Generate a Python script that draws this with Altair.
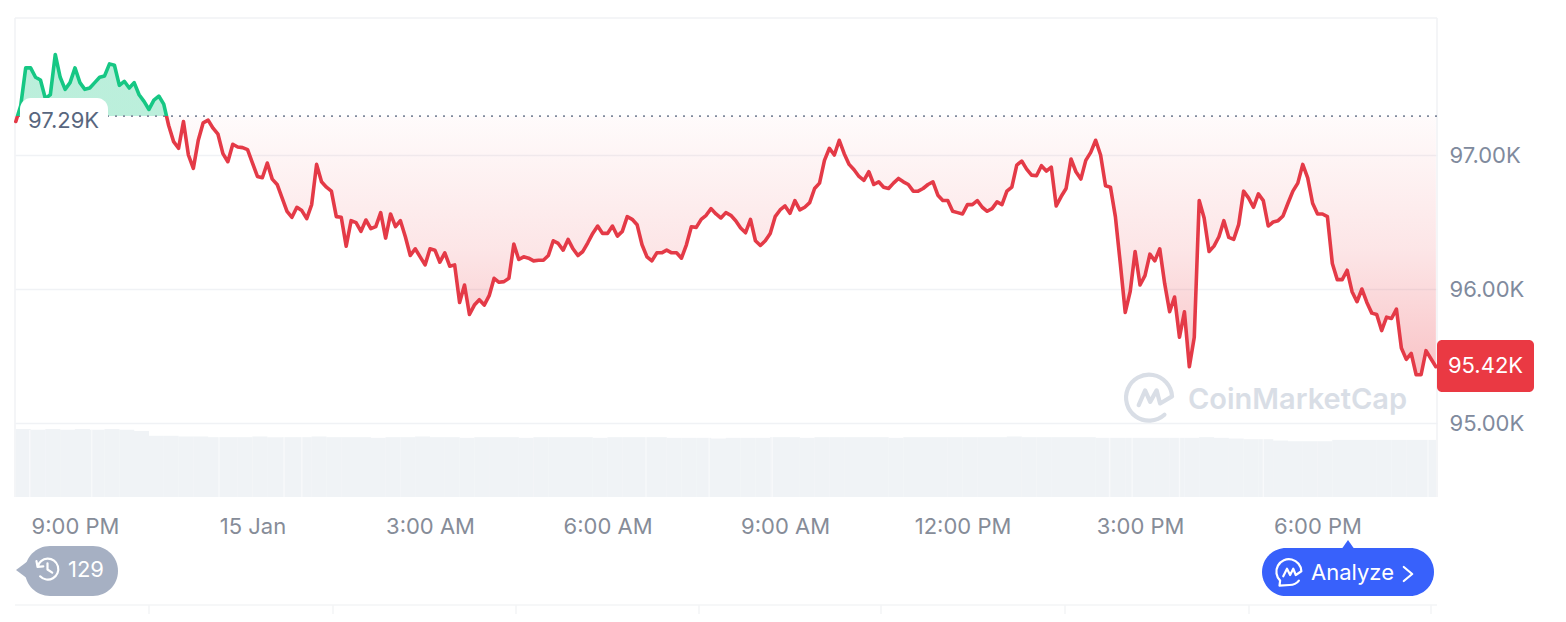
import altair as alt
import pandas as pd

# ---- chart values ----
BASE_PRICE = 97.29
LAST_PRICE_TEXT = "95.42K"
OPEN_PRICE_TEXT = "97.29K"
HISTORY_COUNT = "129"

prices_a = [
    97.25, 97.37, 97.65, 97.65, 97.58, 97.56, 97.42, 97.45, 97.75, 97.58,
    97.49, 97.54, 97.65, 97.54, 97.49, 97.50, 97.54, 97.58, 97.59, 97.68,
    97.67, 97.52, 97.55, 97.50, 97.54, 97.45, 97.40, 97.34, 97.41, 97.44,
    97.38, 97.22, 97.10, 97.05, 97.25, 97.00, 96.90, 97.11, 97.24, 97.26,
    97.20, 97.155, 97.01, 96.95, 97.08, 97.06, 97.055, 97.04, 96.94, 96.84,
    96.83, 96.94, 96.82, 96.78, 96.68, 96.58, 96.535, 96.61, 96.585, 96.525,
    96.63, 96.93, 96.80, 96.76, 96.73, 96.54, 96.535, 96.32, 96.51, 96.495,
    96.43, 96.515, 96.45, 96.465, 96.57, 96.38, 96.56, 96.465, 96.51, 96.39,
    96.25, 96.30, 96.24, 96.18, 96.30, 96.29, 96.20, 96.27, 96.17, 96.18,
    95.90, 96.03, 95.81, 95.88, 95.92, 95.88, 95.95, 96.08, 96.05,
]
prices_b = [
    96.055, 96.08, 96.335, 96.22, 96.24, 96.23, 96.21, 96.215, 96.215, 96.25,
    96.36, 96.34, 96.29, 96.37, 96.30, 96.25, 96.28, 96.345, 96.415, 96.47,
    96.415, 96.415, 96.47, 96.395, 96.43, 96.54, 96.52, 96.48, 96.33, 96.24,
    96.21, 96.27, 96.27, 96.29, 96.27, 96.27, 96.23, 96.33, 96.465, 96.46,
    96.52, 96.55, 96.60, 96.56, 96.53, 96.57, 96.55, 96.51, 96.455, 96.42,
    96.52, 96.36, 96.325, 96.36, 96.415, 96.54, 96.59, 96.62, 96.565, 96.66,
    96.59, 96.61, 96.645, 96.75, 96.79, 96.96, 97.05, 97.00, 97.11, 97.01,
    96.93, 96.89, 96.84, 96.81, 96.875, 96.78, 96.80, 96.76, 96.75, 96.79,
    96.825, 96.80, 96.78, 96.73, 96.73, 96.75, 96.78, 96.80, 96.70, 96.66,
    96.66, 96.58, 96.57, 96.56, 96.63, 96.63, 96.66,
]
prices_c = [
    96.61, 96.58, 96.60, 96.65, 96.63, 96.73, 96.76, 96.925, 96.955, 96.895,
    96.85, 96.845, 96.92, 96.88, 96.91, 96.62, 96.69, 96.75, 96.97, 96.875,
    96.82, 96.96, 97.02, 97.11, 97.00, 96.77, 96.76, 96.54, 96.19, 95.825,
    95.98, 96.28, 96.03, 96.10, 96.26, 96.21, 96.30, 96.04, 95.83, 95.94,
    95.64, 95.83, 95.42, 95.64, 96.66, 96.53, 96.28, 96.32, 96.39, 96.51,
    96.385, 96.37, 96.48, 96.73, 96.68, 96.61, 96.71, 96.66, 96.47, 96.50,
    96.51, 96.545, 96.64, 96.73, 96.79, 96.93, 96.83, 96.64, 96.56, 96.56,
    96.54, 96.19, 96.07, 96.07, 96.14, 95.98, 95.905, 96.00, 95.90, 95.82,
    95.81, 95.69, 95.79, 95.78, 95.85, 95.56, 95.475, 95.52, 95.36, 95.36,
    95.54, 95.48, 95.42,
]
prices = prices_a + prices_b + prices_c

# relative volume, one bar per 15 minutes
volumes = [
    1.00, 0.99, 1.00, 0.99, 1.00, 0.99, 1.00, 0.99, 0.97,
    0.90, 0.90, 0.89, 0.89, 0.88, 0.88, 0.88, 0.89, 0.88, 0.88, 0.88, 0.89,
    0.88, 0.88, 0.88, 0.87, 0.88, 0.88, 0.89, 0.88, 0.88, 0.87, 0.88, 0.88,
    0.88, 0.87, 0.88, 0.88, 0.88, 0.88, 0.87, 0.88, 0.88, 0.88, 0.88,
    0.87, 0.87, 0.87, 0.86, 0.87, 0.87, 0.87,
    0.88, 0.88, 0.87, 0.88, 0.88, 0.88, 0.88, 0.88, 0.87, 0.88, 0.88, 0.88, 0.88,
    0.88, 0.88, 0.88, 0.89, 0.88, 0.88, 0.88, 0.88, 0.88,
    0.87, 0.87, 0.87, 0.87, 0.87, 0.87, 0.87, 0.88, 0.87,
    0.86, 0.85, 0.85,
    0.83, 0.82, 0.82, 0.82,
    0.84, 0.84, 0.84, 0.84, 0.84, 0.84, 0.84,
]
# moments where the volume strip shows a thin pale gap (minutes after the start)
volume_gaps = [14, 77, 206, 272, 290, 639, 703, 767, 1109, 1132, 1180, 1265, 1432]

y_ticks = [95, 96, 97]
x_tick_hours = [(14, 21), (15, 0), (15, 3), (15, 6), (15, 9), (15, 12), (15, 15), (15, 18)]

# ---- styling ----
FONT = "Inter"
RED = "#ea3943"
LINE_RED = "#e43a47"
GREEN = "#16c784"
GREY = "#808a9d"
X_GREY = "#868c98"
DARK_GREY = "#58667e"
RULE = "#f0f2f5"
BLUE = "#3861fb"
PILL = "#a6b0c3"
WATERMARK = "#d9dee6"

PAGE_X0, PAGE_Y0 = 15, 18
PLOT_W, PLOT_H = 1422, 479


def px(x):
    return x - PAGE_X0


def py(y):
    return y - PAGE_Y0


# ---- tables ----
start = pd.Timestamp("2025-01-14T20:00:00")
price_df = pd.DataFrame({
    "time": [start + pd.Timedelta(minutes=5 * i) for i in range(len(prices))],
    "price": prices,
    "base": BASE_PRICE,
})
vol_df = pd.DataFrame({
    "time": [start + pd.Timedelta(minutes=7.5 + 15 * i) for i in range(len(volumes))],
    "volume": volumes,
})
gap_df = pd.DataFrame({"time": [start + pd.Timedelta(minutes=m) for m in volume_gaps]})
one = pd.DataFrame({"a": [0]})

# ---- scales ----
x_scale = alt.Scale(domain=[
    alt.DateTime(year=2025, month=1, date=14, hours=19, minutes=59, seconds=10),
    alt.DateTime(year=2025, month=1, date=15, hours=20, minutes=1, seconds=8),
], nice=False, padding=0)
y_scale = alt.Scale(domain=[94.4478, 98.0224], nice=False, zero=False)
vol_scale = alt.Scale(domain=[0, 7.044], nice=False, zero=True)

x_axis = alt.Axis(
    values=[alt.DateTime(year=2025, month=1, date=d, hours=h) for d, h in x_tick_hours],
    labelExpr="hours(datum.value) == 0 ? '15 Jan' : timeFormat(datum.value, '%-I:%M %p')",
    title=None, grid=False, domain=False, ticks=False, labelPadding=19,
    labelFont=FONT, labelFontSize=22, labelColor=X_GREY, labelOverlap=False, labelFlush=False,
)
y_axis = alt.Axis(
    values=y_ticks, orient="right",
    labelExpr="format(datum.value, '.2f') + 'K'",
    title=None, grid=True, gridColor=RULE, gridWidth=1.5, domain=False, ticks=False, labelPadding=12,
    labelFont=FONT, labelFontSize=22, labelColor=GREY, labelAlign="left",
)

# hard colour change at the opening price, through gradients over the marks' own extent
top, bottom = max(prices), min(prices)
split = (top - BASE_PRICE) / (top - bottom)
area_fill = alt.LinearGradient(gradient="linear", x1=0, y1=0, x2=0, y2=1, stops=[
    alt.GradientStop(offset=0, color="rgba(22,199,132,0.29)"),
    alt.GradientStop(offset=split, color="rgba(22,199,132,0.29)"),
    alt.GradientStop(offset=split, color="rgba(234,57,67,0.02)"),
    alt.GradientStop(offset=0.61, color="rgba(234,57,67,0.13)"),
    alt.GradientStop(offset=0.77, color="rgba(234,57,67,0.20)"),
    alt.GradientStop(offset=1, color="rgba(234,57,67,0.30)"),
])
line_stroke = alt.LinearGradient(gradient="linear", x1=0, y1=0, x2=0, y2=1, stops=[
    alt.GradientStop(offset=0, color=GREEN),
    alt.GradientStop(offset=split, color=GREEN),
    alt.GradientStop(offset=split, color=LINE_RED),
    alt.GradientStop(offset=1, color=LINE_RED),
])

# ---- data layers ----
volume_layer = alt.Chart(vol_df).mark_bar(size=15, color="#f0f3f6").encode(
    x=alt.X("time:T", scale=x_scale, axis=x_axis),
    y=alt.Y("volume:Q", scale=vol_scale, axis=None),
)
gap_layer = alt.Chart(gap_df).mark_rule(color="#ffffff", opacity=0.5, strokeWidth=1.4).encode(
    x=alt.X("time:T", scale=x_scale, axis=x_axis),
    y=alt.value(py(430)),
    y2=alt.value(py(497)),
)
area_layer = alt.Chart(price_df).mark_area(fill=area_fill, line=False).encode(
    x=alt.X("time:T", scale=x_scale, axis=x_axis),
    y=alt.Y("price:Q", scale=y_scale, axis=y_axis),
    y2="base:Q",
)
base_layer = alt.Chart(pd.DataFrame({"base": [BASE_PRICE]})).mark_rule(
    color=GREY, strokeDash=[2, 6], strokeWidth=1.6
).encode(y=alt.Y("base:Q", scale=y_scale, axis=None))
line_layer = alt.Chart(price_df).mark_line(
    stroke=line_stroke, strokeWidth=3.6, strokeJoin="round", strokeCap="round"
).encode(
    x=alt.X("time:T", scale=x_scale, axis=x_axis),
    y=alt.Y("price:Q", scale=y_scale, axis=None),
)


# ---- page furniture ----
def hrule(x1, x2, y, color=RULE, width=1.5):
    return alt.Chart(one).mark_rule(color=color, strokeWidth=width).encode(
        x=alt.value(px(x1)), x2=alt.value(px(x2)), y=alt.value(py(y)))


def vrule(x, y1, y2, color=RULE, width=1.5):
    return alt.Chart(one).mark_rule(color=color, strokeWidth=width).encode(
        x=alt.value(px(x)), y=alt.value(py(y1)), y2=alt.value(py(y2)))


def box(x1, x2, y1, y2, color, radius):
    return alt.Chart(one).mark_rect(color=color, cornerRadius=radius).encode(
        x=alt.value(px(x1)), x2=alt.value(px(x2)), y=alt.value(py(y1)), y2=alt.value(py(y2)))


def label(text, x, y, color, size=22, align="left", weight=400):
    return alt.Chart(one).mark_text(
        text=text, font=FONT, fontSize=size, color=color, align=align,
        baseline="middle", fontWeight=weight,
    ).encode(x=alt.value(px(x)), y=alt.value(py(y)))


def glyph(path, x, y, span, stroke=None, width=2, fill=None):
    kw = dict(shape=path, size=span ** 2, opacity=1)
    if fill:
        kw.update(filled=True, fill=fill, strokeWidth=0)
    else:
        kw.update(filled=False, stroke=stroke, strokeWidth=width, strokeCap="round", strokeJoin="round")
    return alt.Chart(one).mark_point(**kw).encode(x=alt.value(px(x)), y=alt.value(py(y)))


CMC_LOGO = ("M 0.98 -0.05 A 1 1 0 1 0 0.65 0.75 "
            "M -0.47 0.33 L -0.19 -0.31 L 0.03 0.19 L 0.31 -0.31 L 0.46 0.26 L 0.98 -0.05")
CHAT_LOGO = ("M 0.95 -0.1 A 1 1 0 1 0 -0.75 0.65 L -0.8 1.05 L 0.0 1.0 "
             "C 0.3 1.0 0.6 0.85 0.75 0.65 "
             "M -0.5 0.3 L -0.2 -0.3 L 0.05 0.2 L 0.3 -0.3 L 0.5 0.2 L 0.95 -0.1")
CLOCK = ("M -0.95 -0.2 A 1 1 0 1 1 -0.7 0.7 M -1.05 -0.75 L -0.95 -0.2 L -0.4 -0.25 "
         "M 0 -0.55 L 0 0.05 L 0.45 0.35")
CHEVRON = "M -0.6 -1 L 0.6 0 L -0.6 1"
TIP_LEFT = "M -1 0 L 1 -1.5 L 1 1.5 Z"
TIP_UP = "M 0 -1 L 1.4 1 L -1.4 1 Z"

furniture = [
    hrule(15, 1437, 18),
    vrule(15, 18, 497),
    vrule(1437, 18, 497),
    hrule(15, 1437, 605, color="#f3f4f6"),
] + [vrule(x, 605, 622, color="#f3f4f6") for x in [149, 333, 516, 699, 881, 1065, 1249, 1431]]

overlays = [
    box(20, 108, 98, 132, "#ffffff", 11),
    label(OPEN_PRICE_TEXT, 28, 121, DARK_GREY),
    glyph(CMC_LOGO, 1149.5, 397.5, 46, stroke=WATERMARK, width=4.2),
    label("CoinMarketCap", 1188, 400, WATERMARK, size=29, weight=600),
    box(1437, 1534, 340, 392, RED, 5),
    label(LAST_PRICE_TEXT, 1485.5, 366, "#ffffff", align="center"),
    glyph(TIP_LEFT, 24, 570, 16, fill=PILL),
    box(25, 118, 546, 596, PILL, 25),
    glyph(CLOCK, 47.5, 569, 21, stroke="#ffffff", width=2.2),
    label(HISTORY_COUNT, 68, 570, "#ffffff"),
    glyph(TIP_UP, 1348, 545, 10, fill=BLUE),
    box(1262, 1434, 548, 596, BLUE, 24),
    glyph(CHAT_LOGO, 1289.5, 572.5, 25, stroke="#ffffff", width=2.2),
    label("Analyze", 1311, 573, "#ffffff", size=22),
    glyph(CHEVRON, 1408, 574, 14, stroke="#ffffff", width=2.2),
]

chart = alt.layer(
    *furniture, volume_layer, gap_layer, area_layer, base_layer, line_layer, *overlays
).resolve_scale(y="independent").properties(
    width=PLOT_W,
    height=PLOT_H,
    autosize=alt.AutoSizeParams(type="none"),
    padding={"left": 7, "top": 10, "right": 121, "bottom": 117},
    background="#ffffff",
).configure_view(stroke=None)

chart.save("out.html", embed_options={"renderer": "svg", "actions": False})
